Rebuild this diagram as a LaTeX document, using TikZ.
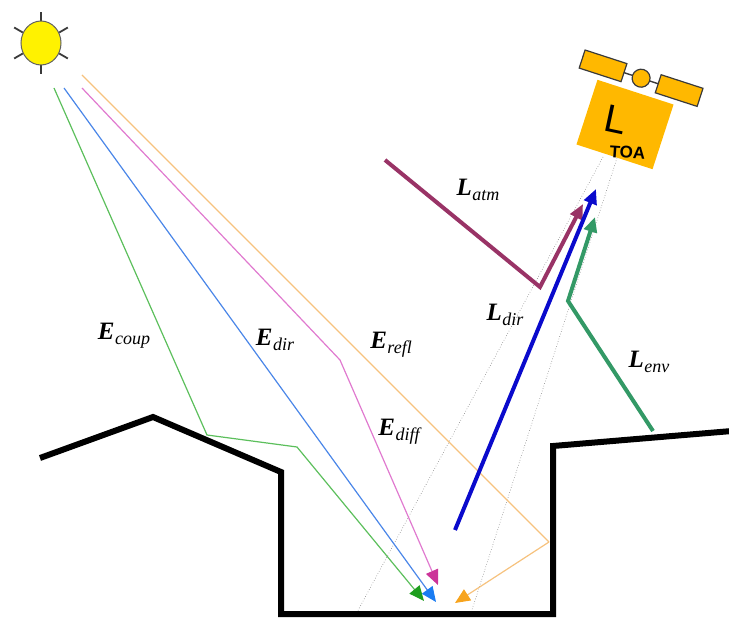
\documentclass[tikz,border=0pt]{standalone}
\usepackage{fontspec}
\setmainfont{Liberation Serif}
\newfontfamily\satfont{Liberation Sans}
\usetikzlibrary{arrows.meta,calc,shapes.geometric}

\definecolor{sunfill}{HTML}{FFF200}
\definecolor{coupline}{HTML}{5CBF5C}
\definecolor{couphead}{HTML}{1E9E1E}
\definecolor{dirline}{HTML}{4A86E8}
\definecolor{dirhead}{HTML}{1A7CF2}
\definecolor{diffline}{HTML}{E07ACF}
\definecolor{diffhead}{HTML}{CC3399}
\definecolor{reflline}{HTML}{F6C27E}
\definecolor{reflhead}{HTML}{F7A41E}
\definecolor{atmcol}{HTML}{993366}
\definecolor{ldircol}{HTML}{0A0ACC}
\definecolor{envcol}{HTML}{339966}
\definecolor{satfill}{HTML}{FFB800}
\definecolor{satedge}{HTML}{3A3A3A}

\tikzset{
  ground/.style={line width=6pt, line join=miter, black},
  sunray/.style={line width=1.8pt, satedge},
  beam/.style={line width=1.2pt},
  thinhead/.style={-{Triangle[length=15pt,width=13pt,color=#1]}},
  upbeam/.style={line width=4pt, line join=miter, -{Triangle[length=15pt,width=13pt]}},
  sight/.style={gray, dotted, line width=0.6pt},
  lab/.style={font=\fontsize{25}{27}\selectfont\bfseries\itshape, inner sep=0pt},
  satpart/.style={fill=satfill, draw=satedge, line width=1.2pt},
}
% bold italic symbol with an italic subscript
\newcommand{\flux}[2]{#1\kern0.5pt\raisebox{-5pt}{\fontsize{18}{19}\selectfont\mdseries\itshape #2}}

\begin{document}
\begin{tikzpicture}[x=1pt,y=-1pt]
\useasboundingbox (0,0) rectangle (729,620);

% ---- points ----
\coordinate (sunC) at (41,43);
\coordinate (sCoup) at (54,88);
\coordinate (sDir) at (64,88);
\coordinate (sDiff) at (82,88);
\coordinate (sRefl) at (82,75);
\coordinate (kCoupA) at (207,435);
\coordinate (kCoupB) at (297,447);
\coordinate (kDiff) at (340,360);
\coordinate (kRefl) at (549,542);
\coordinate (tCoup) at (424,601);
\coordinate (tDir) at (436,602);
\coordinate (tDiff) at (438,585);
\coordinate (tRefl) at (455,603);

\coordinate (vL1) at (603,157);
\coordinate (vL2) at (355,616);
\coordinate (vR1) at (617,158);
\coordinate (vR2) at (470,616);

\coordinate (atmA) at (385,160);
\coordinate (atmB) at (540,287);
\coordinate (atmT) at (583,204);
\coordinate (ldirA) at (455,530);
\coordinate (ldirT) at (596,189);
\coordinate (envA) at (653,431);
\coordinate (envB) at (568,301);
\coordinate (envT) at (595,217);

% ---- lines of sight of the sensor ----
\draw[sight] (vL1) -- (vL2);
\draw[sight] (vR1) -- (vR2);

% ---- sun ----
\foreach \a in {90,270,30,150,210,330}
  \draw[sunray] ($(sunC)+(\a:21)$) -- ($(sunC)+(\a:31)$);
\node[ellipse, minimum width=40pt, minimum height=44pt, fill=sunfill,
      draw=satedge!80, line width=1pt, inner sep=0pt] (sun) at (sunC) {};

% ---- irradiance paths ----
\draw[beam, coupline, thinhead=couphead] (sCoup) -- (kCoupA) -- (kCoupB) -- (tCoup);
\draw[beam, dirline, thinhead=dirhead] (sDir) -- (tDir);
\draw[beam, diffline, thinhead=diffhead] (sDiff) -- (kDiff) -- (tDiff);
\draw[beam, reflline] (sRefl) -- (kRefl);
\draw[beam, reflline, thinhead=reflhead] (kRefl) -- (tRefl);

% ---- radiance paths ----
\draw[upbeam, atmcol] (atmA) -- (atmB) -- (atmT);
\draw[upbeam, ldircol] (ldirA) -- (ldirT);
\draw[upbeam, envcol] (envA) -- (envB) -- (envT);

% ---- terrain ----
\draw[ground] (40,458) -- (153,417) -- (281,472) -- (281,614) -- (553,614)
  -- (553,446) -- (732,431);

% ---- satellite ----
\begin{scope}[shift={(625,124.5)}, rotate=-18]
  \fill[satfill] (-40,-34) rectangle (40,34);
  \draw[satedge, line width=1.4pt] (-17,-49) -- (19,-49);
  \draw[satpart] (-61,-58.5) rectangle (-17,-39.5);
  \draw[satpart] (19,-58.5) rectangle (63,-39.5);
  \draw[satpart] (1,-49) circle (9);
  \node[font=\satfont\fontsize{39}{40}\selectfont, rotate=-12, inner sep=0pt]
    (Lsym) at (-10,-2) {L};
  \node[font=\satfont\bfseries\fontsize{17}{18}\selectfont, rotate=-4, inner sep=0pt]
    (toa) at (11,26) {TOA};
\end{scope}

% ---- labels ----
\node[lab] (lcoup) at (124,336) {\flux{E}{coup}};
\node[lab] (ldir)  at (275,340) {\flux{E}{dir}};
\node[lab] (lrefl) at (391,345) {\flux{E}{refl}};
\node[lab] (ldiff) at (399,432) {\flux{E}{diff}};
\node[lab] (latm)  at (478,190) {\flux{L}{atm}};
\node[lab] (lldir) at (505,315) {\flux{L}{dir}};
\node[lab] (lenv)  at (649,362) {\flux{L}{env}};
\end{tikzpicture}
\end{document}
